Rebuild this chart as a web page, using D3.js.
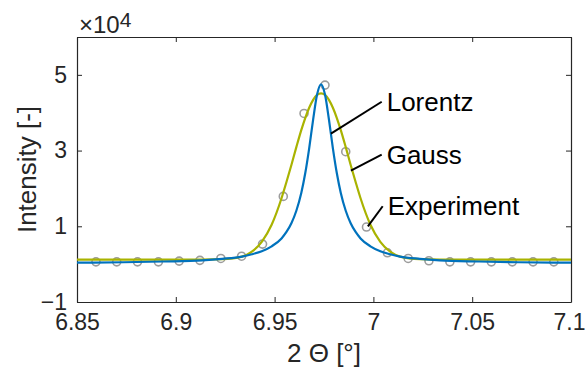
<!DOCTYPE html>
<html>
<head>
<meta charset="utf-8">
<script src="https://cdn.jsdelivr.net/npm/d3@7"></script>
<style>
  html, body { margin: 0; padding: 0; background: #fff; }
  svg { display: block; font-family: "Liberation Sans", Arial, sans-serif; }
  .axis path, .axis line { stroke: #262626; }
  .axis text { fill: #262626; font-size: 23px; }
</style>
</head>
<body>
<svg id="chart" width="587" height="374"></svg>
<script>
// x positions (2 Theta, deg) shared by the two fitted curves
const fitX = [6.85, 6.8735, 6.8935, 6.9135, 6.9235, 6.9335, 6.9385, 6.9435, 6.9485, 6.9535,
  6.956, 6.9585, 6.961, 6.9635, 6.9655, 6.9675, 6.9695, 6.9715, 6.9735,
  6.9755, 6.9775, 6.9795, 6.9815, 6.9835, 6.986, 6.9885, 6.991, 6.9935, 6.9985,
  7.0035, 7.0085, 7.0135, 7.0235, 7.0335, 7.0535, 7.0735, 7.1];
// intensities in units of 1e4
const lorentzY = [0.04, 0.05, 0.07, 0.10, 0.14, 0.20, 0.26, 0.34, 0.47, 0.68,
  0.85, 1.08, 1.41, 1.88, 2.40, 3.06, 3.82, 4.48, 4.75,
  4.48, 3.82, 3.06, 2.40, 1.88, 1.41, 1.08, 0.85, 0.68, 0.47,
  0.34, 0.26, 0.20, 0.14, 0.10, 0.07, 0.05, 0.04];
const gaussY = [0.12, 0.12, 0.12, 0.12, 0.13, 0.20, 0.33, 0.59, 1.04, 1.74,
  2.17, 2.62, 3.09, 3.54, 3.86, 4.13, 4.34, 4.47, 4.51,
  4.47, 4.34, 4.13, 3.86, 3.54, 3.09, 2.62, 2.17, 1.74, 1.04,
  0.59, 0.33, 0.20, 0.13, 0.12, 0.12, 0.12, 0.12];

const expX = [6.8596, 6.8701, 6.8806, 6.8912, 6.9017, 6.9122, 6.9228, 6.9333, 6.9439, 6.9544,
  6.9649, 6.9755, 6.986, 6.9965, 7.0071, 7.0176, 7.0281, 7.0387, 7.0492, 7.0597,
  7.0703, 7.0808, 7.0913];
const expY = [0.06, 0.06, 0.06, 0.06, 0.08, 0.10, 0.15, 0.21, 0.53, 1.79,
  3.98, 4.73, 2.97, 0.98, 0.30, 0.15, 0.09, 0.06, 0.06, 0.06,
  0.06, 0.06, 0.06];

const xTicks = [6.85, 6.9, 6.95, 7, 7.05, 7.1];
const yTicks = [-1, 1, 3, 5];

// annotation labels: text anchor (data coords) and target on the curve
const labels = ['Lorentz', 'Gauss', 'Experiment'];
const labelFrom = [[7.0042, 4.29], [7.0042, 2.89], [7.0047, 1.53]];
const labelTo = [[6.9785, 3.45], [6.9886, 2.47], [6.9972, 1.0]];

const margin = { top: 37, right: 16, bottom: 72, left: 77 };
const width = 587 - margin.left - margin.right;
const height = 374 - margin.top - margin.bottom;

const svg = d3.select('#chart');
const g = svg.append('g').attr('transform', `translate(${margin.left},${margin.top})`);

const x = d3.scaleLinear().domain([6.85, 7.1]).range([0, width]);
const y = d3.scaleLinear().domain([-1, 6]).range([height, 0]);

const fmt = d => String(+d.toFixed(2));

// axes (box with inward ticks on all sides)
g.append('g').attr('class', 'axis')
  .attr('transform', `translate(0,${height})`)
  .call(d3.axisBottom(x).tickValues(xTicks).tickFormat(fmt).tickSizeInner(-5).tickSizeOuter(0).tickPadding(12));
g.append('g').attr('class', 'axis')
  .call(d3.axisTop(x).tickValues(xTicks).tickFormat('').tickSizeInner(-5).tickSizeOuter(0));
g.append('g').attr('class', 'axis')
  .call(d3.axisLeft(y).tickValues(yTicks).tickFormat(d3.format('d')).tickSizeInner(-5).tickSizeOuter(0).tickPadding(10));
g.append('g').attr('class', 'axis')
  .attr('transform', `translate(${width},0)`)
  .call(d3.axisRight(y).tickValues(yTicks).tickFormat('').tickSizeInner(-5).tickSizeOuter(0));

g.selectAll('.axis .domain').attr('stroke-width', 1.2);
g.selectAll('.axis text').attr('font-family', '"Liberation Sans", Arial, sans-serif');
// keep the last x tick label inside the window
g.selectAll('.axis .tick text').filter(d => d === 7.1).attr('dx', -2);

// experiment points
g.selectAll('.pt')
  .data(expX.map((v, i) => [v, expY[i]]))
  .enter().append('circle')
  .attr('class', 'pt')
  .attr('cx', d => x(d[0]))
  .attr('cy', d => y(d[1]))
  .attr('r', 4)
  .attr('fill', 'none')
  .attr('stroke', '#9c9c9c')
  .attr('stroke-width', 1.6);

const line = d3.line().x(d => x(d[0])).y(d => y(d[1])).curve(d3.curveMonotoneX);

g.append('path')
  .datum(fitX.map((v, i) => [v, gaussY[i]]))
  .attr('d', line)
  .attr('fill', 'none')
  .attr('stroke', '#a9b300')
  .attr('stroke-width', 2.2);

g.append('path')
  .datum(fitX.map((v, i) => [v, lorentzY[i]]))
  .attr('d', line)
  .attr('fill', 'none')
  .attr('stroke', '#0072bd')
  .attr('stroke-width', 2.2);

// annotations
labels.forEach((txt, i) => {
  g.append('line')
    .attr('x1', x(labelFrom[i][0])).attr('y1', y(labelFrom[i][1]))
    .attr('x2', x(labelTo[i][0])).attr('y2', y(labelTo[i][1]))
    .attr('stroke', '#000')
    .attr('stroke-width', 2);
  g.append('text')
    .attr('x', x(labelFrom[i][0]) + 5)
    .attr('y', y(labelFrom[i][1]))
    .attr('dy', '0.35em')
    .attr('font-size', 26)
    .attr('fill', '#000')
    .text(txt);
});

// exponent label
const expLabel = svg.append('text')
  .attr('x', margin.left + 2)
  .attr('y', 33)
  .attr('fill', '#262626')
  .attr('font-size', 24);
expLabel.append('tspan').text('×10');
expLabel.append('tspan').attr('dy', -6).attr('font-size', 21).text('4');

// axis labels
svg.append('text')
  .attr('x', margin.left + width / 2)
  .attr('y', 362)
  .attr('text-anchor', 'middle')
  .attr('fill', '#262626')
  .attr('font-size', 26)
  .text('2 Θ [°]');

svg.append('text')
  .attr('transform', `translate(36,${margin.top + height / 2}) rotate(-90)`)
  .attr('text-anchor', 'middle')
  .attr('fill', '#262626')
  .attr('font-size', 26)
  .text('Intensity [-]');
</script>
</body>
</html>
